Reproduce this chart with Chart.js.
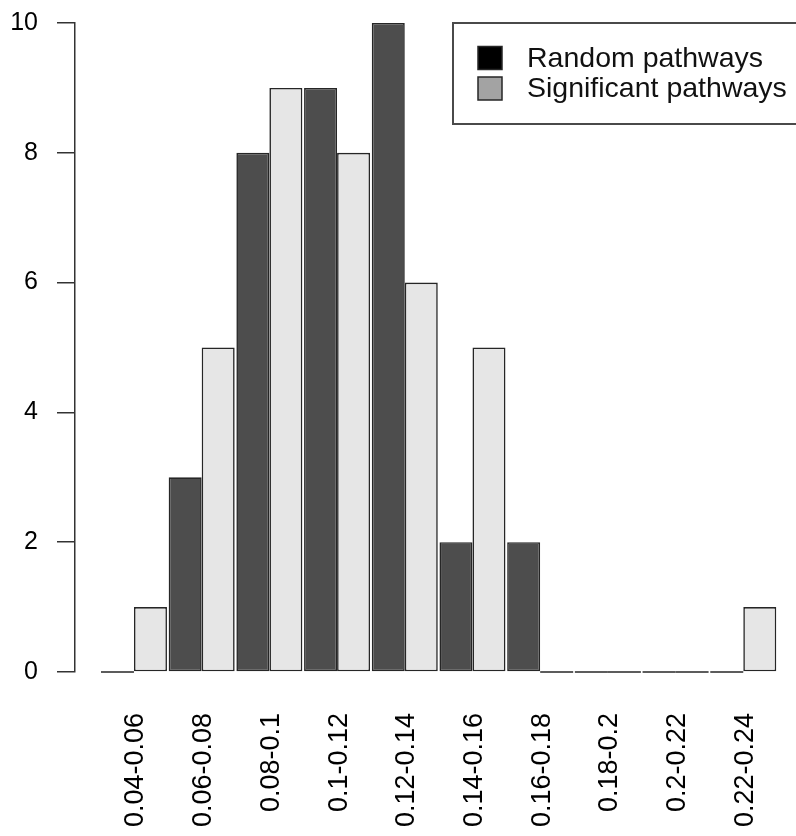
<!DOCTYPE html>
<html>
<head>
<meta charset="utf-8">
<script src="https://cdn.jsdelivr.net/npm/chart.js@4/dist/chart.umd.min.js"></script>
<style>
  html, body { margin: 0; padding: 0; background: #ffffff; }
  #wrap { width: 796px; height: 836px; }
</style>
</head>
<body>
<div id="wrap"><canvas id="chart" width="796" height="836"></canvas></div>
<script>
// Bin labels (overlap score ranges)
const binLabels = ['0.04-0.06', '0.06-0.08', '0.08-0.1', '0.1-0.12', '0.12-0.14',
                   '0.14-0.16', '0.16-0.18', '0.18-0.2', '0.2-0.22', '0.22-0.24'];
// Pathway counts per bin
const randomCounts      = [0, 3, 8, 9, 10, 2, 2, 0, 0, 0];
const significantCounts = [1, 5, 9, 8, 6, 5, 0, 0, 0, 1];
const seriesNames = ['Random pathways', 'Significant pathways'];
const yTicks = [0, 2, 4, 6, 8, 10];

const FONT = '"Liberation Sans", Arial, Helvetica, sans-serif';
const barFill = ['#4d4d4d', '#e6e6e6'];
const keyFill = ['#000000', '#a3a3a3'];
const edge = '#262626';

// Zero-count bars are drawn as a flat outline along the baseline
const zeroBars = {
  id: 'zeroBars',
  afterDatasetsDraw(chart) {
    const ctx = chart.ctx;
    const y0 = chart.scales.y.getPixelForValue(0);
    ctx.save();
    ctx.strokeStyle = edge;
    ctx.lineWidth = 1.5;
    chart.data.datasets.forEach((ds, di) => {
      const meta = chart.getDatasetMeta(di);
      meta.data.forEach((bar, i) => {
        if (ds.data[i].y === 0) {
          ctx.beginPath();
          ctx.moveTo(bar.x - bar.width / 2, y0);
          ctx.lineTo(bar.x + bar.width / 2, y0);
          ctx.stroke();
        }
      });
    });
    ctx.restore();
  }
};

// Boxed key in the top-right corner of the plot
const boxKey = {
  id: 'boxKey',
  afterDraw(chart) {
    const ctx = chart.ctx;
    const area = chart.chartArea;
    const left = 453, top = area.top, bottom = area.top + 101;
    ctx.save();
    ctx.strokeStyle = '#4a4a4a';
    ctx.lineWidth = 2;
    ctx.beginPath();
    ctx.moveTo(800, top);
    ctx.lineTo(left, top);
    ctx.lineTo(left, bottom);
    ctx.lineTo(800, bottom);
    ctx.stroke();
    ctx.font = '28.5px ' + FONT;
    ctx.textBaseline = 'middle';
    chart.data.datasets.forEach((ds, i) => {
      const cy = top + 35 + i * 30.5;
      ctx.fillStyle = keyFill[i];
      ctx.fillRect(478, cy - 11.5, 24, 23);
      ctx.strokeStyle = edge;
      ctx.lineWidth = 1.5;
      ctx.strokeRect(478, cy - 11.5, 24, 23);
      ctx.fillStyle = '#111';
      ctx.fillText(ds.label, 527, cy + 1);
    });
    ctx.restore();
  }
};

const datasets = [randomCounts, significantCounts].map((vals, k) => ({
  label: seriesNames[k],
  data: vals.map((v, i) => ({ x: i, y: v })),
  backgroundColor: barFill[k],
  borderColor: edge,
  borderWidth: 1.6,
  borderSkipped: false,
  categoryPercentage: 0.975,
  barPercentage: 1.0
}));

new Chart(document.getElementById('chart'), {
  type: 'bar',
  data: { datasets },
  options: {
    responsive: false,
    animation: false,
    layout: { padding: { top: 23, right: 14, left: 0, bottom: 0 } },
    plugins: { legend: { display: false }, tooltip: { enabled: false } },
    scales: {
      x: {
        type: 'linear',
        offset: false,
        min: -0.871,
        max: 9.572,
        grid: { display: false, drawTicks: false, offset: false },
        border: { display: false },
        afterBuildTicks(scale) { scale.ticks = binLabels.map((_, i) => ({ value: i })); },
        afterFit(scale) {
          scale.height = 164;
          scale.paddingLeft = 0;
          scale.paddingRight = 0;
        },
        ticks: {
          autoSkip: false,
          minRotation: 90,
          maxRotation: 90,
          padding: 41,
          labelOffset: 2,
          color: '#000',
          font: { family: FONT, size: 27 },
          callback: (v) => binLabels[v]
        }
      },
      y: {
        min: 0,
        max: 10,
        afterBuildTicks(scale) { scale.ticks = yTicks.map(v => ({ value: v })); },
        afterFit(scale) {
          scale.width = 75;
          scale.paddingTop = 0;
          scale.paddingBottom = 0;
        },
        grid: { drawOnChartArea: false, drawTicks: true, tickLength: 18, color: '#333', lineWidth: 1.5 },
        border: { display: true, color: '#333', width: 1.5 },
        ticks: {
          padding: 19,
          color: '#000',
          font: { family: FONT, size: 25 }
        }
      }
    }
  },
  plugins: [zeroBars, boxKey]
});
</script>
</body>
</html>
